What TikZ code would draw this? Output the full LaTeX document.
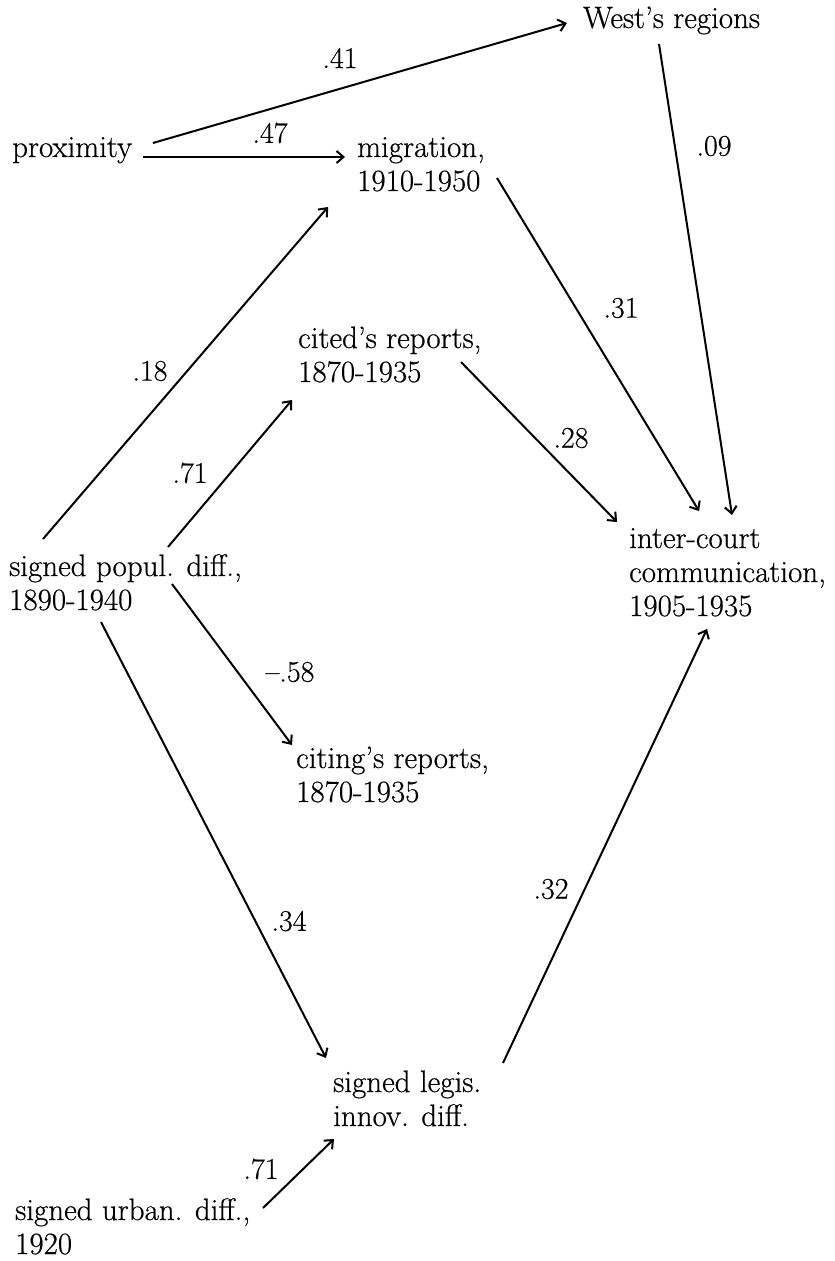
\documentclass[tikz,border=0pt]{standalone}
\usepackage{fontspec}
\setmainfont{Latin Modern Roman}[FakeBold=0.5]
\usetikzlibrary{arrows.meta}
\newcommand\mystack[1]{\vtop{\baselineskip=34pt\lineskiplimit=-100pt #1}}
\begin{document}
\begin{tikzpicture}[x=1pt,y=-1pt,
  txt/.style={inner sep=0pt, anchor=base west, font=\fontsize{31}{34}\selectfont},
  lbl/.style={inner sep=0pt, font=\fontsize{30}{32}\selectfont},
  arr/.style={line width=2pt, -{Straight Barb[length=7pt,width=12pt]}}]
\fill[white] (0,0) rectangle (835,1261);
\path[use as bounding box] (0,0) rectangle (835,1261);

% concept nodes
\node[txt] (west)   at (583,28)   {West's regions};
\node[txt] (prox)   at (12,157)   {proximity};
\node[txt] (mig)    at (357,157)  {\mystack{\hbox{migration,}\hbox{1910-1950}}};
\node[txt] (cited)  at (298,348)  {\mystack{\hbox{cited's reports,}\hbox{1870-1935}}};
\node[txt] (popul)  at (9,576)    {\mystack{\hbox{signed popul. diff.,}\hbox{1890-1940}}};
\node[txt] (citing) at (296,768)  {\mystack{\hbox{citing's reports,}\hbox{1870-1935}}};
\node[txt] (inter)  at (629,548)  {\mystack{\hbox{inter-court}\hbox{communication,}\hbox{1905-1935}}};
\node[txt] (legis)  at (333,1092) {\mystack{\hbox{signed legis.}\hbox{innov. diff.}}};
\node[txt] (urban)  at (15,1220)  {\mystack{\hbox{signed urban. diff.,}\hbox{1920}}};

% connector end points
\coordinate (prox-a) at (153,143);  \coordinate (west-in) at (567,23);
\coordinate (prox-b) at (143,157);  \coordinate (mig-in) at (345,157);
\coordinate (west-out) at (659,44); \coordinate (inter-in1) at (732,515);
\coordinate (mig-out) at (497,178); \coordinate (inter-in2) at (699,511);
\coordinate (cited-out) at (461,362); \coordinate (inter-in3) at (617,522);
\coordinate (popul-a) at (43,539);  \coordinate (mig-in2) at (328,207);
\coordinate (popul-b) at (168,547); \coordinate (cited-in) at (292,400);
\coordinate (popul-c) at (172,584); \coordinate (citing-in) at (292,745);
\coordinate (popul-d) at (101,622); \coordinate (legis-in) at (326,1058);
\coordinate (legis-out) at (503,1063); \coordinate (inter-in4) at (707,629);
\coordinate (urban-out) at (263,1208); \coordinate (legis-in2) at (334,1139);

% connectors
\draw[arr] (prox-a) -- (west-in);
\draw[arr] (prox-b) -- (mig-in);
\draw[arr] (west-out) -- (inter-in1);
\draw[arr] (mig-out) -- (inter-in2);
\draw[arr] (cited-out) -- (inter-in3);
\draw[arr] (popul-a) -- (mig-in2);
\draw[arr] (popul-b) -- (cited-in);
\draw[arr] (popul-c) -- (citing-in);
\draw[arr] (popul-d) -- (legis-in);
\draw[arr] (legis-out) -- (inter-in4);
\draw[arr] (urban-out) -- (legis-in2);

% coefficient labels
\node[lbl] (l41) at (340,58)  {.41};
\node[lbl] (l47) at (270,133) {.47};
\node[lbl] (l09) at (714,146) {.09};
\node[lbl] (l31) at (621,308) {.31};
\node[lbl] (l18) at (150,371) {.18};
\node[lbl] (l71a) at (190,473) {.71};
\node[lbl] (l28) at (571,438) {.28};
\node[lbl] (l58) at (290,672) {\textendash.58};
\node[lbl] (l34) at (289,921) {.34};
\node[lbl] (l32) at (551,889) {.32};
\node[lbl] (l71b) at (261,1169) {.71};
\end{tikzpicture}
\end{document}
